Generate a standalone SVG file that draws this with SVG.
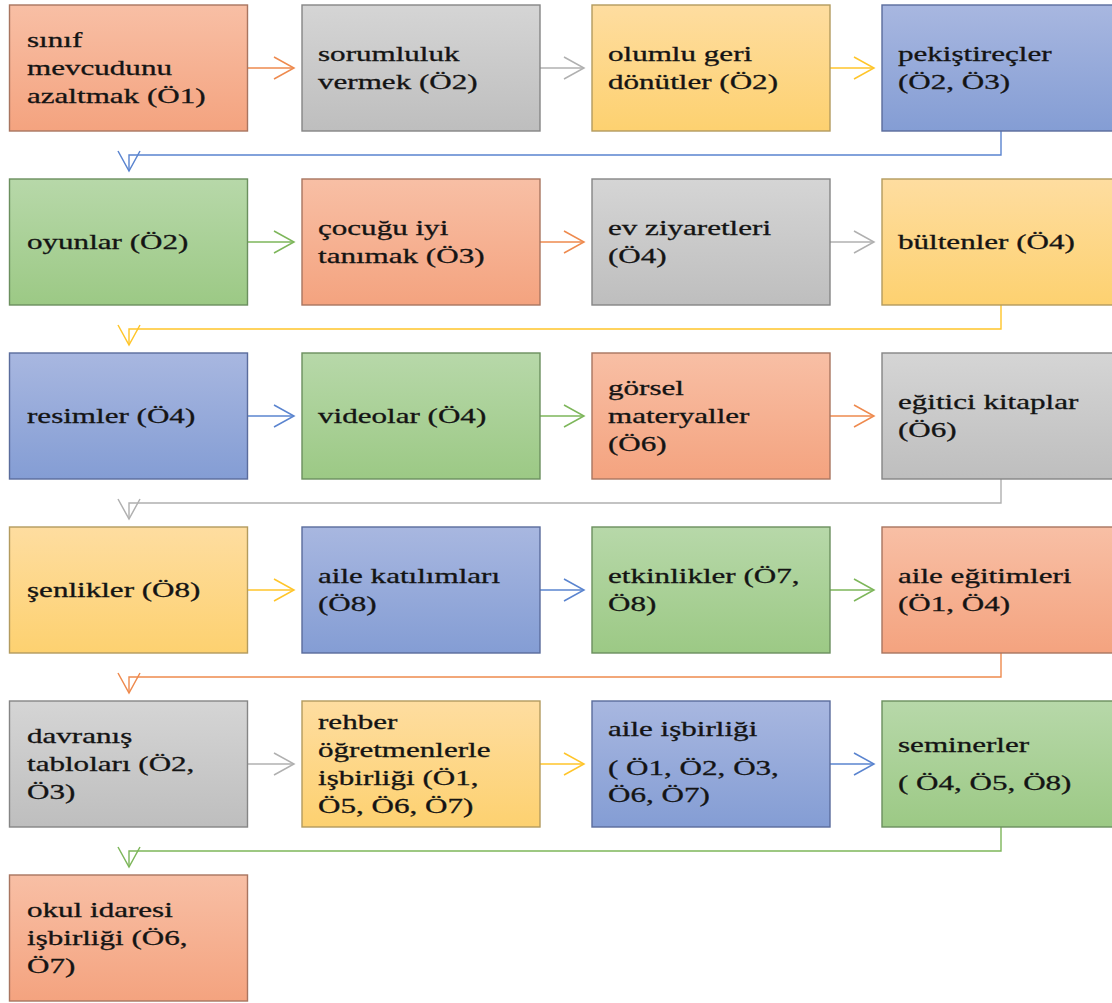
<svg xmlns="http://www.w3.org/2000/svg" width="1112" height="1003" viewBox="0 0 1112 1003">
<style>
  .t { font-family: "Liberation Serif", "Times New Roman", serif; font-size: 21px; fill: #141414; stroke: #141414; stroke-width: 0.3; }
  .box { stroke-width: 1.4; }
  .o { fill: url(#gO); stroke: #A87560; }
  .g { fill: url(#gG); stroke: #858585; }
  .y { fill: url(#gY); stroke: #B39B5E; }
  .b { fill: url(#gB); stroke: #5A6C9C; }
  .n { fill: url(#gN); stroke: #6B8F5E; }
  .c { fill: none; stroke-width: 1.4; }
  .cO { stroke: #EE8A4E; }
  .cG { stroke: #B0B0B0; }
  .cY { stroke: #FFC52A; }
  .cB { stroke: #5A84CF; }
  .cN { stroke: #7DB65A; }
</style>
<defs>
  <linearGradient id="gO" x1="0" y1="0" x2="0" y2="1"><stop offset="0" stop-color="#F8BFA5"/><stop offset="1" stop-color="#F4A37F"/></linearGradient>
  <linearGradient id="gG" x1="0" y1="0" x2="0" y2="1"><stop offset="0" stop-color="#D5D5D5"/><stop offset="1" stop-color="#BEBEBE"/></linearGradient>
  <linearGradient id="gY" x1="0" y1="0" x2="0" y2="1"><stop offset="0" stop-color="#FEDDA0"/><stop offset="1" stop-color="#FDD170"/></linearGradient>
  <linearGradient id="gB" x1="0" y1="0" x2="0" y2="1"><stop offset="0" stop-color="#A8B7E0"/><stop offset="1" stop-color="#849DD4"/></linearGradient>
  <linearGradient id="gN" x1="0" y1="0" x2="0" y2="1"><stop offset="0" stop-color="#B7D8A9"/><stop offset="1" stop-color="#9CC985"/></linearGradient>
  <marker id="mO" markerUnits="userSpaceOnUse" markerWidth="28" markerHeight="28" viewBox="-4 -14 28 28" refX="20" refY="0" orient="auto"><path d="M0,-11 L20,0 L0,11" fill="none" stroke="#EE8A4E" stroke-width="1.5"/></marker>
  <marker id="mG" markerUnits="userSpaceOnUse" markerWidth="28" markerHeight="28" viewBox="-4 -14 28 28" refX="20" refY="0" orient="auto"><path d="M0,-11 L20,0 L0,11" fill="none" stroke="#B0B0B0" stroke-width="1.5"/></marker>
  <marker id="mY" markerUnits="userSpaceOnUse" markerWidth="28" markerHeight="28" viewBox="-4 -14 28 28" refX="20" refY="0" orient="auto"><path d="M0,-11 L20,0 L0,11" fill="none" stroke="#FFC52A" stroke-width="1.5"/></marker>
  <marker id="mB" markerUnits="userSpaceOnUse" markerWidth="28" markerHeight="28" viewBox="-4 -14 28 28" refX="20" refY="0" orient="auto"><path d="M0,-11 L20,0 L0,11" fill="none" stroke="#5A84CF" stroke-width="1.5"/></marker>
  <marker id="mN" markerUnits="userSpaceOnUse" markerWidth="28" markerHeight="28" viewBox="-4 -14 28 28" refX="20" refY="0" orient="auto"><path d="M0,-11 L20,0 L0,11" fill="none" stroke="#7DB65A" stroke-width="1.5"/></marker>
</defs>
<rect x="0" y="0" width="1112" height="1003" fill="#FFFFFF"/>

<g id="connectors">
  <path class="c cO" d="M247.5,68 H294" marker-end="url(#mO)"/>
  <path class="c cG" d="M540,68 H584" marker-end="url(#mG)"/>
  <path class="c cY" d="M830,68 H874" marker-end="url(#mY)"/>
  <path class="c cB" d="M1001,131 V155 H129 V171" marker-end="url(#mB)"/>
  <path class="c cN" d="M247.5,242 H294" marker-end="url(#mN)"/>
  <path class="c cO" d="M540,242 H584" marker-end="url(#mO)"/>
  <path class="c cG" d="M830,242 H874" marker-end="url(#mG)"/>
  <path class="c cY" d="M1001,305 V329 H129 V345" marker-end="url(#mY)"/>
  <path class="c cB" d="M247.5,416 H294" marker-end="url(#mB)"/>
  <path class="c cN" d="M540,416 H584" marker-end="url(#mN)"/>
  <path class="c cO" d="M830,416 H874" marker-end="url(#mO)"/>
  <path class="c cG" d="M1001,479 V503 H129 V519" marker-end="url(#mG)"/>
  <path class="c cY" d="M247.5,590 H294" marker-end="url(#mY)"/>
  <path class="c cB" d="M540,590 H584" marker-end="url(#mB)"/>
  <path class="c cN" d="M830,590 H874" marker-end="url(#mN)"/>
  <path class="c cO" d="M1001,653 V677 H129 V693" marker-end="url(#mO)"/>
  <path class="c cG" d="M247.5,764 H294" marker-end="url(#mG)"/>
  <path class="c cY" d="M540,764 H584" marker-end="url(#mY)"/>
  <path class="c cB" d="M830,764 H874" marker-end="url(#mB)"/>
  <path class="c cN" d="M1001,827 V851 H129 V867" marker-end="url(#mN)"/>
</g>

<g id="n1"><rect class="box o" x="9.5" y="5" width="238" height="126"/>
  <text class="t" transform="translate(27,0) scale(1.48,1)"><tspan x="0" y="46.7">sınıf</tspan><tspan x="0" y="75">mevcudunu</tspan><tspan x="0" y="103.3">azaltmak (Ö1)</tspan></text></g>
<g id="n2"><rect class="box g" x="302" y="5" width="238" height="126"/>
  <text class="t" transform="translate(318,0) scale(1.48,1)"><tspan x="0" y="60.9">sorumluluk</tspan><tspan x="0" y="89.2">vermek (Ö2)</tspan></text></g>
<g id="n3"><rect class="box y" x="592" y="5" width="238" height="126"/>
  <text class="t" transform="translate(608,0) scale(1.48,1)"><tspan x="0" y="60.9">olumlu geri</tspan><tspan x="0" y="89.2">dönütler (Ö2)</tspan></text></g>
<g id="n4"><rect class="box b" x="882" y="5" width="238" height="126"/>
  <text class="t" transform="translate(898,0) scale(1.48,1)"><tspan x="0" y="60.9">pekiştireçler</tspan><tspan x="0" y="89.2">(Ö2, Ö3)</tspan></text></g>

<g id="n5"><rect class="box n" x="9.5" y="179" width="238" height="126"/>
  <text class="t" transform="translate(27,0) scale(1.48,1)"><tspan x="0" y="249">oyunlar (Ö2)</tspan></text></g>
<g id="n6"><rect class="box o" x="302" y="179" width="238" height="126"/>
  <text class="t" transform="translate(318,0) scale(1.48,1)"><tspan x="0" y="234.9">çocuğu iyi</tspan><tspan x="0" y="263.2">tanımak (Ö3)</tspan></text></g>
<g id="n7"><rect class="box g" x="592" y="179" width="238" height="126"/>
  <text class="t" transform="translate(608,0) scale(1.48,1)"><tspan x="0" y="234.9">ev ziyaretleri</tspan><tspan x="0" y="263.2">(Ö4)</tspan></text></g>
<g id="n8"><rect class="box y" x="882" y="179" width="238" height="126"/>
  <text class="t" transform="translate(898,0) scale(1.48,1)"><tspan x="0" y="249">bültenler (Ö4)</tspan></text></g>

<g id="n9"><rect class="box b" x="9.5" y="353" width="238" height="126"/>
  <text class="t" transform="translate(27,0) scale(1.48,1)"><tspan x="0" y="423">resimler (Ö4)</tspan></text></g>
<g id="n10"><rect class="box n" x="302" y="353" width="238" height="126"/>
  <text class="t" transform="translate(318,0) scale(1.48,1)"><tspan x="0" y="423">videolar (Ö4)</tspan></text></g>
<g id="n11"><rect class="box o" x="592" y="353" width="238" height="126"/>
  <text class="t" transform="translate(608,0) scale(1.48,1)"><tspan x="0" y="394.7">görsel</tspan><tspan x="0" y="423">materyaller</tspan><tspan x="0" y="451.3">(Ö6)</tspan></text></g>
<g id="n12"><rect class="box g" x="882" y="353" width="238" height="126"/>
  <text class="t" transform="translate(898,0) scale(1.48,1)"><tspan x="0" y="408.9">eğitici kitaplar</tspan><tspan x="0" y="437.2">(Ö6)</tspan></text></g>

<g id="n13"><rect class="box y" x="9.5" y="527" width="238" height="126"/>
  <text class="t" transform="translate(27,0) scale(1.48,1)"><tspan x="0" y="597">şenlikler (Ö8)</tspan></text></g>
<g id="n14"><rect class="box b" x="302" y="527" width="238" height="126"/>
  <text class="t" transform="translate(318,0) scale(1.48,1)"><tspan x="0" y="582.9">aile katılımları</tspan><tspan x="0" y="611.2">(Ö8)</tspan></text></g>
<g id="n15"><rect class="box n" x="592" y="527" width="238" height="126"/>
  <text class="t" transform="translate(608,0) scale(1.48,1)"><tspan x="0" y="582.9">etkinlikler (Ö7,</tspan><tspan x="0" y="611.2">Ö8)</tspan></text></g>
<g id="n16"><rect class="box o" x="882" y="527" width="238" height="126"/>
  <text class="t" transform="translate(898,0) scale(1.48,1)"><tspan x="0" y="582.9">aile eğitimleri</tspan><tspan x="0" y="611.2">(Ö1, Ö4)</tspan></text></g>

<g id="n17"><rect class="box g" x="9.5" y="701" width="238" height="126"/>
  <text class="t" transform="translate(27,0) scale(1.48,1)"><tspan x="0" y="742.7">davranış</tspan><tspan x="0" y="771">tabloları (Ö2,</tspan><tspan x="0" y="799.3">Ö3)</tspan></text></g>
<g id="n18"><rect class="box y" x="302" y="701" width="238" height="126"/>
  <text class="t" transform="translate(318,0) scale(1.48,1)"><tspan x="0" y="728.6">rehber</tspan><tspan x="0" y="756.9">öğretmenlerle</tspan><tspan x="0" y="785.2">işbirliği (Ö1,</tspan><tspan x="0" y="813.5">Ö5, Ö6, Ö7)</tspan></text></g>
<g id="n19"><rect class="box b" x="592" y="701" width="238" height="126"/>
  <text class="t" transform="translate(608,0) scale(1.48,1)"><tspan x="0" y="736">aile işbirliği</tspan><tspan x="0" y="775">( Ö1, Ö2, Ö3,</tspan><tspan x="0" y="802.5">Ö6, Ö7)</tspan></text></g>
<g id="n20"><rect class="box n" x="882" y="701" width="238" height="126"/>
  <text class="t" transform="translate(898,0) scale(1.48,1)"><tspan x="0" y="752">seminerler</tspan><tspan x="0" y="790.5">( Ö4, Ö5, Ö8)</tspan></text></g>

<g id="n21"><rect class="box o" x="9.5" y="875" width="238" height="126"/>
  <text class="t" transform="translate(27,0) scale(1.48,1)"><tspan x="0" y="916.7">okul idaresi</tspan><tspan x="0" y="945">işbirliği (Ö6,</tspan><tspan x="0" y="973.3">Ö7)</tspan></text></g>
</svg>
